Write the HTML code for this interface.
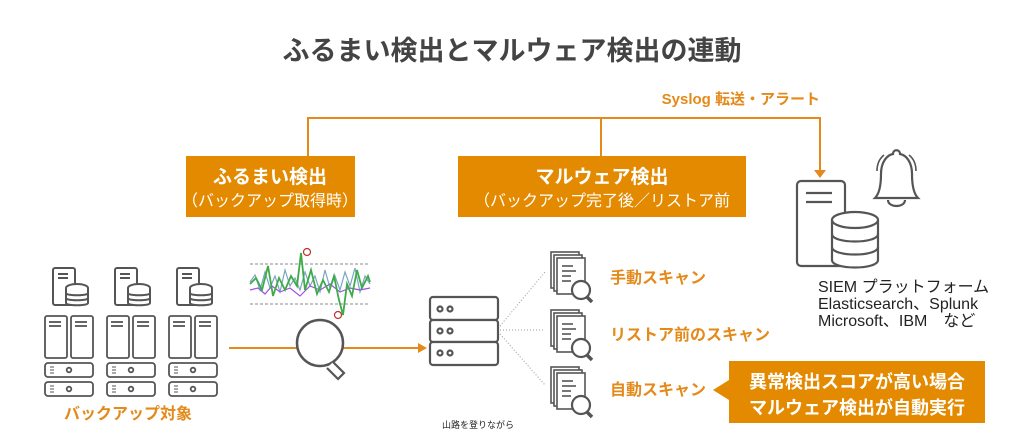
<!DOCTYPE html>
<html><head><meta charset="utf-8"><style>
body{margin:0;background:#fff;}
svg{display:block;}
text{font-family:"Liberation Sans","Noto Sans CJK JP",sans-serif;}
</style></head><body>
<svg width="1024" height="442" viewBox="0 0 1024 442" xmlns="http://www.w3.org/2000/svg">
<defs>
<g id="smallsrv" fill="#fff" stroke="#555" stroke-width="2">
 <rect x="0" y="0" width="22" height="37" rx="2"/>
 <line x1="5" y1="6" x2="15" y2="6"/><line x1="5" y1="10" x2="15" y2="10"/>
 <ellipse cx="24" cy="20" rx="11" ry="4"/>
 <path d="M13 20v15c0 3 22 3 22 0V20"/>
 <path d="M13 25c0 3 22 3 22 0M13 30c0 3 22 3 22 0"/>
</g>
<g id="tower" fill="#fff" stroke="#555" stroke-width="1.8">
 <rect x="0" y="0" width="22" height="42" rx="2"/>
 <line x1="4" y1="6" x2="16" y2="6"/><line x1="4" y1="10" x2="16" y2="10"/>
</g>
<g id="rack" fill="#fff" stroke="#555" stroke-width="1.8">
 <rect x="0" y="0" width="48" height="14" rx="3"/>
 <line x1="5" y1="4" x2="9" y2="4" stroke-width="1"/><line x1="5" y1="7" x2="9" y2="7" stroke-width="1"/><line x1="5" y1="10" x2="9" y2="10" stroke-width="1"/>
 <circle cx="24" cy="7" r="2.3"/>
</g>
<g id="col">
 <use href="#smallsrv" x="8" y="0"/>
 <use href="#tower" x="0" y="48"/><use href="#tower" x="26" y="48"/>
 <use href="#rack" x="0" y="95"/><use href="#rack" x="0" y="114"/>
</g>
<g id="doc" fill="#fff" stroke="#555" stroke-width="1.6">
 <rect x="0" y="0" width="28" height="36"/>
 <rect x="3" y="3" width="28" height="36"/>
 <rect x="6" y="6" width="28" height="36"/>
 <line x1="11" y1="14" x2="22" y2="14"/><line x1="11" y1="19" x2="25" y2="19"/><line x1="11" y1="24" x2="20" y2="24"/><line x1="11" y1="29" x2="20" y2="29"/>
 <circle cx="30" cy="38" r="9" stroke-width="2.2"/>
 <path d="M36 45l5 5" stroke-width="3.5"/>
</g>
</defs>

<text x="512" y="60" text-anchor="middle" font-size="27" font-weight="bold" fill="#444">ふるまい検出とマルウェア検出の連動</text>

<text x="820" y="104" text-anchor="end" font-size="15" font-weight="bold" fill="#E38A1A">Syslog 転送・アラート</text>
<g stroke="#E38A1A" stroke-width="2" fill="none">
 <path d="M308 156V118H820V172"/>
 <line x1="601" y1="118" x2="601" y2="156"/>
</g>
<path d="M814 170h12l-6 8z" fill="#E38A1A"/>

<rect x="186" y="156" width="169" height="61" fill="#E38A00"/>
<text x="270" y="183" text-anchor="middle" font-size="19" font-weight="bold" fill="#fff">ふるまい検出</text>
<text x="270" y="206" text-anchor="middle" font-size="16" fill="#fff">（バックアップ取得時）</text>
<rect x="458" y="156" width="288" height="61" fill="#E38A00"/>
<text x="602" y="183" text-anchor="middle" font-size="19" font-weight="bold" fill="#fff">マルウェア検出</text>
<text x="602" y="206" text-anchor="middle" font-size="16" fill="#fff">（バックアップ完了後／リストア前</text>

<!-- SIEM -->
<g fill="#fff" stroke="#555" stroke-width="2.2">
 <rect x="797" y="181" width="48" height="85" rx="4"/>
 <line x1="806" y1="193" x2="832" y2="193"/><line x1="806" y1="202" x2="832" y2="202"/>
 <path d="M832 220v40c0 10 46 10 46 0v-40"/>
 <ellipse cx="855" cy="220" rx="23" ry="8"/>
 <path d="M832 234c0 10 46 10 46 0M832 247c0 10 46 10 46 0"/>
 <path d="M875 198c4-4 6-12 6-24 0-12 6-19 12-20 0-5 7-5 7 0 6 1 12 8 12 20 0 12 2 20 6 24z"/>
 <path d="M888 200c0 8 17 8 17 0"/>
 <path d="M884 155c-5 4-7 10-7 16M909 155c5 4 7 10 7 16" stroke-width="1.6"/>
</g>
<text x="818" y="292" font-size="16" fill="#222">SIEM プラットフォーム</text>
<text x="818" y="309" font-size="16" fill="#222">Elasticsearch、Splunk</text>
<text x="818" y="326" font-size="16" fill="#222">Microsoft、IBM　など</text>

<!-- servers -->
<use href="#col" x="45" y="268"/>
<use href="#col" x="107" y="268"/>
<use href="#col" x="169" y="268"/>
<text x="128" y="419" text-anchor="middle" font-size="16" font-weight="bold" fill="#E38A1A">バックアップ対象</text>

<!-- chart -->
<g stroke="#888" stroke-width="1" stroke-dasharray="3,2"><line x1="250" y1="264" x2="370" y2="264"/><line x1="250" y1="304" x2="370" y2="304"/></g>
<polyline fill="none" stroke="#7AA6C2" stroke-width="1.2" points="250,282 255,275 260,290 265,272 270,288 275,276 280,292 285,270 290,286 295,278 300,290 305,272 310,286 315,276 320,292 325,270 330,288 335,276 340,290 345,272 350,286 355,268 360,292 365,276 370,284"/>
<polyline fill="none" stroke="#A050E0" stroke-width="1.2" points="250,290 258,288 265,294 272,286 280,292 290,288 300,296 310,286 320,290 330,284 340,292 350,288 360,290 370,288"/>
<polyline fill="none" stroke="#3FAA4A" stroke-width="1.8" points="250,284 256,278 262,290 268,266 273,296 279,278 285,290 291,276 297,286 301,253 305,290 311,270 317,294 323,280 329,292 334,276 339,300 343,315 347,284 352,296 357,270 362,288 368,276 370,282"/>
<circle cx="307" cy="252" r="3.5" fill="none" stroke="#C03030" stroke-width="1.2"/>
<circle cx="338" cy="315" r="3.5" fill="none" stroke="#C03030" stroke-width="1.2"/>

<!-- arrow -->
<line x1="229" y1="348" x2="420" y2="348" stroke="#E38A1A" stroke-width="2"/>
<path d="M418 343l9 5-9 5z" fill="#E38A1A"/>
<circle cx="320" cy="343" r="23" fill="#fff" stroke="#555" stroke-width="2.5"/>
<path d="M333 362l11 11-6 6-11-11" fill="#fff" stroke="#555" stroke-width="2.2"/>

<!-- rack server -->
<g fill="#fff" stroke="#555" stroke-width="2.2">
 <rect x="430" y="297" width="68" height="23" rx="3"/>
 <rect x="430" y="320" width="68" height="22" rx="3"/>
 <rect x="430" y="342" width="68" height="23" rx="3"/>
 <circle cx="440" cy="309" r="2.5"/><circle cx="450" cy="309" r="2.5"/>
 <circle cx="440" cy="331" r="2.5"/><circle cx="450" cy="331" r="2.5"/>
 <circle cx="440" cy="353" r="2.5"/><circle cx="450" cy="353" r="2.5"/>
</g>
<g stroke="#999" stroke-width="1" stroke-dasharray="1,2">
 <line x1="500" y1="326" x2="545" y2="272"/><line x1="500" y1="330" x2="545" y2="330"/><line x1="500" y1="334" x2="545" y2="385"/>
</g>
<text x="478" y="428" text-anchor="middle" font-size="9" fill="#222">山路を登りながら</text>

<use href="#doc" x="551" y="252"/>
<use href="#doc" x="551" y="310"/>
<use href="#doc" x="551" y="367"/>
<g font-size="16" font-weight="bold" fill="#E38A1A">
<text x="610" y="283">手動スキャン</text>
<text x="610" y="340">リストア前のスキャン</text>
<text x="610" y="395">自動スキャン</text>
</g>
<path d="M729 361H985V423H729V400L713 390L729 380z" fill="#E38A00"/>
<text x="857" y="388" text-anchor="middle" font-size="18" font-weight="bold" fill="#fff">異常検出スコアが高い場合</text>
<text x="857" y="414" text-anchor="middle" font-size="18" font-weight="bold" fill="#fff">マルウェア検出が自動実行</text>
</svg>
</body></html>
